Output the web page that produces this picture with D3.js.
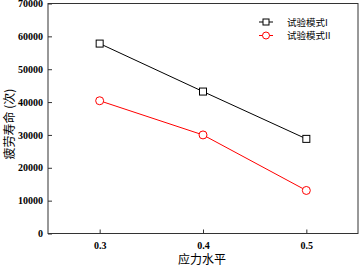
<!DOCTYPE html>
<html><head><meta charset="utf-8">
<script src="https://cdn.jsdelivr.net/npm/d3@7"></script>
<style>body{margin:0;background:#fff}svg{display:block}</style>
</head><body>
<svg id="c" width="359" height="267"></svg>
<script>
const stressLevels = [0.3, 0.4, 0.5];
const modeI = [57800, 43200, 28800];
const modeII = [40400, 30000, 13100];
const seriesNames = ["试验模式I", "试验模式II"];
const yTicks = [0, 10000, 20000, 30000, 40000, 50000, 60000, 70000];
const xTicks = [0.3, 0.4, 0.5];

const svg = d3.select("#c");
const L = 48, T = 3.5, R = 358, B = 233.5;
const x = d3.scaleLinear().domain([0.25, 0.55]).range([L, R]);
const y = d3.scaleLinear().domain([0, 70000]).range([B, T]);
const serif = "'Liberation Serif','Times New Roman',serif";
const cjk = "'Noto Sans CJK SC','Noto Sans CJK JP',sans-serif";

svg.append("rect").attr("x", L).attr("y", T).attr("width", R - L).attr("height", B - T)
  .attr("fill", "none").attr("stroke", "#333").attr("stroke-width", 1);

const ya = svg.append("g").attr("transform", `translate(${L},0)`)
  .call(d3.axisLeft(y).tickValues(yTicks).tickSize(-4).tickPadding(5).tickFormat(d3.format("d")));
const xa = svg.append("g").attr("transform", `translate(0,${B})`)
  .call(d3.axisBottom(x).tickValues(xTicks).tickSize(-4).tickPadding(8).tickFormat(d3.format(".1f")));
[ya, xa].forEach(g => {
  g.select(".domain").remove();
  g.selectAll("line").attr("stroke", "#333");
  g.selectAll("text").attr("font-family", serif).attr("font-size", 10).attr("fill", "#000").attr("font-weight", "bold");
});

const series = [
  {name: seriesNames[0], vals: modeI, color: "#000", shape: "square"},
  {name: seriesNames[1], vals: modeII, color: "#ff0000", shape: "circle"}
];
const line = d3.line().x((d, i) => x(stressLevels[i])).y(d => y(d));

function marker(g, cx, cy, s) {
  if (s.shape === "square") {
    g.append("rect").attr("x", cx - 3.5).attr("y", cy - 3.5).attr("width", 7).attr("height", 7)
      .attr("fill", "#fff").attr("stroke", s.color).attr("stroke-width", 1);
  } else {
    g.append("circle").attr("cx", cx).attr("cy", cy).attr("r", 4)
      .attr("fill", "#fff").attr("stroke", s.color).attr("stroke-width", 1);
  }
}

series.forEach(s => {
  svg.append("path").datum(s.vals).attr("d", line).attr("fill", "none")
    .attr("stroke", s.color).attr("stroke-width", 1);
  const g = svg.append("g");
  s.vals.forEach((v, i) => marker(g, x(stressLevels[i]), y(v), s));
});

// legend
series.forEach((s, i) => {
  const ly = 22 + i * 13.5;
  svg.append("line").attr("x1", 259).attr("x2", 273).attr("y1", ly).attr("y2", ly)
    .attr("stroke", s.color).attr("stroke-width", 1);
  const g = svg.append("g");
  if (s.shape === "square") {
    g.append("rect").attr("x", 263).attr("y", ly - 3).attr("width", 6).attr("height", 6)
      .attr("fill", "#fff").attr("stroke", s.color);
  } else {
    g.append("circle").attr("cx", 266).attr("cy", ly).attr("r", 3.5)
      .attr("fill", "#fff").attr("stroke", s.color);
  }
  svg.append("text").attr("x", 287).attr("y", ly + 3.5).attr("font-family", cjk + "," + serif)
    .attr("font-size", 9.5).attr("fill", "#000").text(s.name);
});

svg.append("text").attr("x", (L + R) / 2 - 1).attr("y", 264).attr("text-anchor", "middle")
  .attr("font-family", cjk).attr("font-size", 12).attr("fill", "#000").text("应力水平");
svg.append("text").attr("transform", `translate(14,124) rotate(-90)`)
  .attr("text-anchor", "middle").attr("font-family", cjk).attr("font-size", 12).attr("fill", "#000")
  .text("疲劳寿命 (次)");
</script>
</body></html>
